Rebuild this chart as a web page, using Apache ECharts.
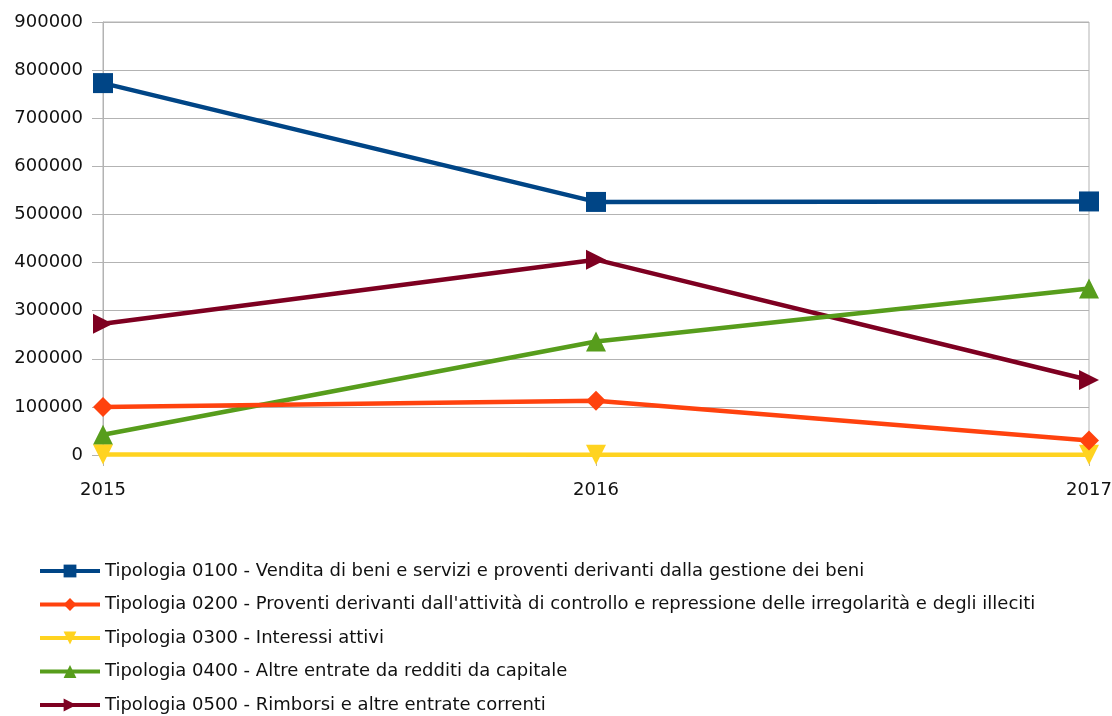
<!DOCTYPE html>
<html><head><meta charset="utf-8">
<script src="https://cdn.jsdelivr.net/npm/echarts@6/dist/echarts.min.js"></script>
<style>html,body{margin:0;padding:0;background:#fff}#c{width:1112px;height:716px}</style>
</head><body><div id="c"></div>
<script>
const years = ['2015', '2016', '2017'];
const names = [
  'Tipologia 0100 - Vendita di beni e servizi e proventi derivanti dalla gestione dei beni',
  "Tipologia 0200 - Proventi derivanti dall'attività di controllo e repressione delle irregolarità e degli illeciti",
  'Tipologia 0300 - Interessi attivi',
  'Tipologia 0400 - Altre entrate da redditi da capitale',
  'Tipologia 0500 - Rimborsi e altre entrate correnti'
];
const t0100 = [773000, 526000, 527000];
const t0200 = [100000, 113000, 30000];
const t0300 = [1000, 500, 500];
const t0400 = [42000, 236000, 346000];
const t0500 = [273000, 406000, 156000];
const colors = ['#004586', '#ff420e', '#ffd320', '#579d1c', '#7e0021'];
const symbols = ['rect', 'diamond', 'triangle', 'triangle', 'triangle'];
const rotations = [0, 0, 180, 0, -90];
const values = [t0100, t0200, t0300, t0400, t0500];

const chart = echarts.init(document.getElementById('c'), null, {renderer: 'canvas'});
chart.setOption({
  animation: false,
  grid: {left: 103, right: 23, top: 22, bottom: 261, outerBoundsMode: 'none', show: true, borderColor: '#b3b3b3', borderWidth: 1},
  xAxis: {
    type: 'category', data: years, boundaryGap: false,
    axisLine: {show: false},
    axisTick: {show: true, length: 11, lineStyle: {color: '#b3b3b3'}, alignWithLabel: true},
    axisLabel: {color: '#111', fontFamily: 'DejaVu Sans', fontSize: 18, margin: 26},
    splitLine: {show: false}
  },
  yAxis: {
    type: 'value', min: 0, max: 900000, interval: 100000,
    axisLine: {show: true, lineStyle: {color: '#b3b3b3'}},
    axisTick: {show: true, length: 11, lineStyle: {color: '#b3b3b3'}},
    axisLabel: {color: '#111', fontFamily: 'DejaVu Sans', fontSize: 18, margin: 20, formatter: v => String(v)},
    splitLine: {lineStyle: {color: '#b3b3b3', width: 1}}
  },
  legend: {
    orient: 'vertical', left: 38, top: 561, height: 160, padding: 0, itemGap: 13.5,
    itemWidth: 60, itemHeight: 16,
    lineStyle: {width: 4},
    textStyle: {color: '#111', fontFamily: 'DejaVu Sans', fontSize: 18, lineHeight: 20},
    data: names
  },
  series: names.map((n, i) => ({
    name: n, type: 'line', data: values[i],
    symbol: symbols[i], symbolSize: 20, symbolRotate: rotations[i],
    showAllSymbol: true,
    lineStyle: {color: colors[i], width: 4.5},
    itemStyle: {color: colors[i]},
    z: 10 - i
  }))
});
</script></body></html>
